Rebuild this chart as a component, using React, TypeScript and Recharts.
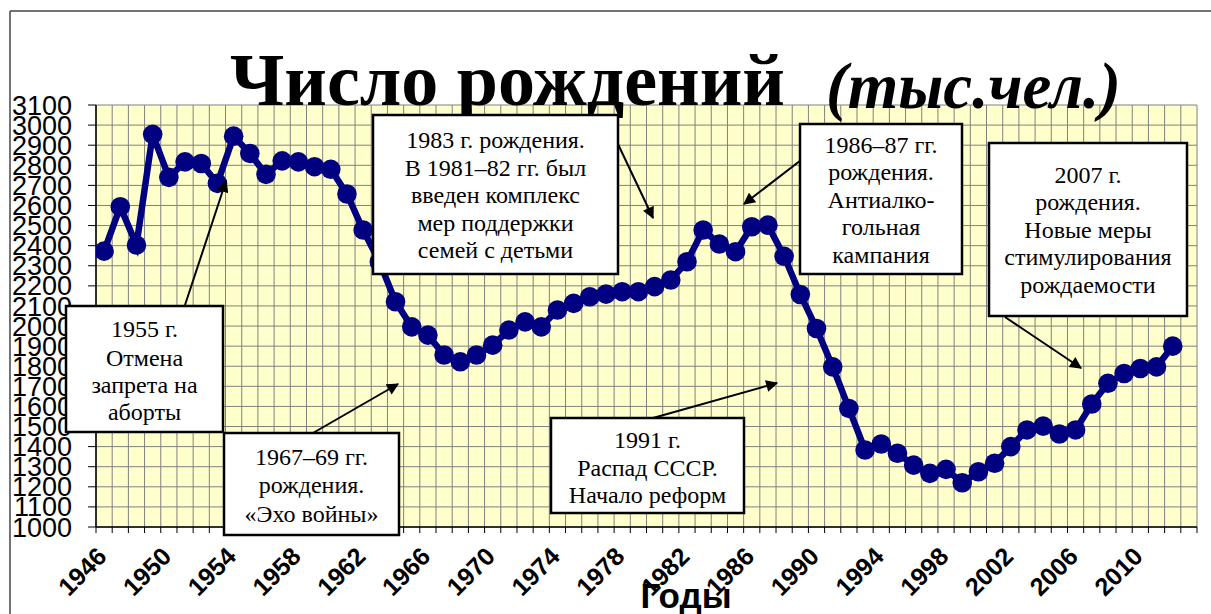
import React from "react";
import { LineChart, Line, XAxis, YAxis, CartesianGrid, ReferenceLine } from "recharts";

// Число рождений в России, тыс. человек
const years = [
  1946, 1947, 1948, 1949, 1950, 1951, 1952, 1953, 1954, 1955, 1956, 1957, 1958, 1959,
  1960, 1961, 1962, 1963, 1964, 1965, 1966, 1967, 1968, 1969, 1970, 1971, 1972, 1973,
  1974, 1975, 1976, 1977, 1978, 1979, 1980, 1981, 1982, 1983, 1984, 1985, 1986, 1987,
  1988, 1989, 1990, 1991, 1992, 1993, 1994, 1995, 1996, 1997, 1998, 1999, 2000, 2001,
  2002, 2003, 2004, 2005, 2006, 2007, 2008, 2009, 2010, 2011, 2012,
];
const births = [
  2373, 2594, 2403, 2954, 2740, 2817, 2809, 2710, 2945, 2859, 2755, 2822, 2817, 2793,
  2780, 2657, 2478, 2320, 2121, 1996, 1955, 1856, 1822, 1856, 1905, 1980, 2021, 1996,
  2080, 2113, 2146, 2159, 2171, 2171, 2196, 2229, 2320, 2478, 2408, 2370, 2494, 2502,
  2347, 2157, 1988, 1797, 1590, 1383, 1413, 1367, 1308, 1267, 1287, 1220, 1275, 1317,
  1400, 1483, 1502, 1463, 1483, 1612, 1715, 1764, 1789, 1797, 1900,
];
const yTicks = [
  1000, 1100, 1200, 1300, 1400, 1500, 1600, 1700, 1800, 1900, 2000, 2100, 2200, 2300,
  2400, 2500, 2600, 2700, 2800, 2900, 3000, 3100,
];
const yearLabels = [
  1946, 1950, 1954, 1958, 1962, 1966, 1970, 1974, 1978, 1982, 1986, 1990, 1994, 1998,
  2002, 2006, 2010,
];
const lastCategory = 2013; // пустая категория в конце оси

const data = years.map((year, i) => ({ year, births: births[i] }));
// границы категорий — для вертикальной сетки и засечек оси
const boundaries = [...years, lastCategory].map((y) => y - 0.5).concat(lastCategory + 0.5);
const xDomain: [number, number] = [boundaries[0], boundaries[boundaries.length - 1]];

const SANS = "Liberation Sans, Arial, sans-serif";
const SERIF = "Times New Roman, Liberation Serif, DejaVu Serif, serif";

type Note = {
  lines: string[];
  box: [number, number, number, number];
  baselines: number[];
  arrow: [number, number, number, number];
};

const notes: Note[] = [
  {
    lines: ["1955 г.", "Отмена", "запрета на", "аборты"],
    box: [66, 306, 157, 126],
    baselines: [337, 366, 393, 420],
    arrow: [185, 305, 226, 181],
  },
  {
    lines: ["1967–69 гг.", "рождения.", "«Эхо войны»"],
    box: [224, 433, 175, 102],
    baselines: [465, 493, 522],
    arrow: [313, 433, 398, 384],
  },
  {
    lines: ["1983 г. рождения.", "В 1981–82 гг. был", "введен комплекс", "мер поддержки", "семей с детьми"],
    box: [373, 115, 245, 159],
    baselines: [148, 176, 203, 231, 258],
    arrow: [617, 142, 653, 218],
  },
  {
    lines: ["1986–87 гг.", "рождения.", "Антиалко-", "гольная", "кампания"],
    box: [800, 124, 162, 150],
    baselines: [153, 180, 208, 235, 263],
    arrow: [805, 157, 744, 204],
  },
  {
    lines: ["2007 г.", "рождения.", "Новые меры", "стимулирования", "рождаемости"],
    box: [989, 143, 198, 173],
    baselines: [183, 210, 238, 265, 293],
    arrow: [1005, 317, 1081, 368],
  },
  {
    lines: ["1991 г.", "Распад СССР.", "Начало реформ"],
    box: [551, 418, 193, 95],
    baselines: [448, 476, 503],
    arrow: [653, 418, 777, 383],
  },
];

function YearTick(props: any) {
  const { x, y, payload } = props;
  const ax = x + 4;
  const ay = y + 23;
  return (
    <text
      x={ax}
      y={ay}
      transform={`rotate(-45, ${ax}, ${ay})`}
      textAnchor="end"
      fontFamily={SANS}
      fontSize={25}
      fontWeight="bold"
      fill="#000"
    >
      {payload.value}
    </text>
  );
}

function Overlay() {
  return (
    <svg
      width={1211}
      height={614}
      style={{ position: "absolute", left: 0, top: 0, pointerEvents: "none" }}
    >
      <defs>
        <marker id="head" viewBox="0 0 10 10" refX="9" refY="5" markerWidth="7" markerHeight="6" orient="auto" markerUnits="strokeWidth">
          <path d="M0,0 L10,5 L0,10 z" fill="#000" />
        </marker>
      </defs>
      {/* рамка */}
      <line x1={10} y1={11} x2={1211} y2={11} stroke="#444" strokeWidth={1.5} />
      <line x1={10} y1={11} x2={10} y2={614} stroke="#444" strokeWidth={1.5} />

      <text x={230} y={105} fontFamily={SERIF} fontWeight="bold" fontSize={74} fill="#000">
        Число рождений
      </text>
      <text x={826} y={108} fontFamily={SERIF} fontWeight="bold" fontStyle="italic" fontSize={65} fill="#000">
        (тыс.чел.)
      </text>

      {notes.map((n, i) => (
        <g key={i}>
          <line
            x1={n.arrow[0]}
            y1={n.arrow[1]}
            x2={n.arrow[2]}
            y2={n.arrow[3]}
            stroke="#000"
            strokeWidth={2}
            markerEnd="url(#head)"
          />
          <rect
            x={n.box[0]}
            y={n.box[1]}
            width={n.box[2]}
            height={n.box[3]}
            fill="#fff"
            stroke="#000"
            strokeWidth={2.5}
          />
          {n.lines.map((t, j) => (
            <text
              key={j}
              x={n.box[0] + n.box[2] / 2}
              y={n.baselines[j]}
              textAnchor="middle"
              fontFamily={SERIF}
              fontSize={24}
              fill="#000"
            >
              {t}
            </text>
          ))}
        </g>
      ))}

      <text x={686} y={608} textAnchor="middle" fontFamily={SANS} fontWeight="bold" fontSize={35} fill="#000">
        Годы
      </text>
    </svg>
  );
}

export default function App() {
  return (
    <div style={{ position: "absolute", left: 0, top: 0, width: 1211, height: 614, background: "#fff" }}>
      <LineChart width={1211} height={614} data={data} margin={{ top: 105, right: 14, left: 0, bottom: 0 }}>
        <CartesianGrid fill="#FFFFCC" stroke="#808080" strokeWidth={1} vertical={false} />
        <XAxis
          dataKey="year"
          type="number"
          domain={xDomain}
          ticks={yearLabels}
          interval={0}
          height={87}
          tickSize={6}
          tickMargin={2}
          axisLine={{ stroke: "#000", strokeWidth: 1.5 }}
          tickLine={false}
          tick={<YearTick />}
          allowDataOverflow
        />
        <YAxis
          domain={[1000, 3100]}
          ticks={yTicks}
          interval={0}
          width={96}
          tickSize={8}
          tickMargin={16}
          axisLine={{ stroke: "#000", strokeWidth: 1.5 }}
          tickLine={{ stroke: "#000" }}
          tick={{ fontFamily: SANS, fontSize: 27, fill: "#000" }}
          allowDataOverflow
        />
        {boundaries.map((b) => (
          <ReferenceLine key={`g${b}`} x={b} stroke="#808080" strokeWidth={1} />
        ))}
        {boundaries.map((b) => (
          <ReferenceLine
            key={`t${b}`}
            segment={[
              { x: b, y: 1000 },
              { x: b, y: 970 },
            ]}
            stroke="#000"
            strokeWidth={1}
            ifOverflow="visible"
          />
        ))}
        <Line
          dataKey="births"
          stroke="#000080"
          strokeWidth={6.5}
          dot={{ r: 9.8, fill: "#000080", stroke: "none" }}
          activeDot={false}
          isAnimationActive={false}
        />
      </LineChart>
      <Overlay />
    </div>
  );
}
